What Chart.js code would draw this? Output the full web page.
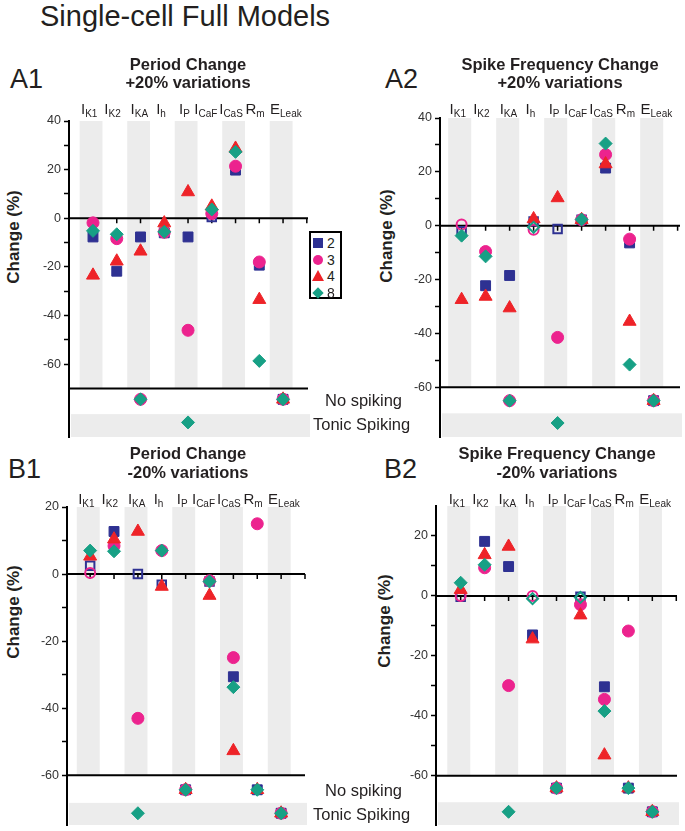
<!DOCTYPE html>
<html><head><meta charset="utf-8">
<script src="https://cdn.jsdelivr.net/npm/chart.js@4.4.1/dist/chart.umd.min.js"></script>
<style>
html,body{margin:0;padding:0;background:#fff;}
body{width:685px;height:831px;position:relative;overflow:hidden;font-family:"Liberation Sans",Arial,sans-serif;color:#231f20;}
.abs{position:absolute;white-space:nowrap;}
canvas{position:absolute;}
.sub{font-size:10px;position:relative;top:3px;}
#legend{position:absolute;left:309px;top:231px;width:29px;height:64px;border:2px solid #000;background:#fff;}
.li{position:absolute;left:0;width:29px;height:16px;}
.lm{position:absolute;}
.lt{position:absolute;left:16px;font-size:14px;line-height:16px;top:0;}
</style></head><body>

<script>
// ---------------- DATA ----------------
const categories = ['IK1','IK2','IKA','Ih','IP','ICaF','ICaS','Rm','ELeak'];
const catBase = ['I','I','I','I','I','I','I','R','E'];
const catSub  = ['K1','K2','KA','h','P','CaF','CaS','m','Leak'];
const seriesNames = ['2','3','4','8'];
// 'NS' = No spiking, 'TS' = Tonic Spiking

// A1: Period change, +20% variations
const a1s2 = [-7.7, -21.8, -7.7, -6.0, -7.7, 0.5, 19.8, -19.3, 'NS'];
const a1s3 = [-1.9, -8.4, 'NS', -5.8, -46.1, 1.9, 21.4, -18.0, 'NS'];
const a1s4 = [-23.5, -17.7, -13.6, -2.0, 10.8, 4.9, 28.7, -33.5, 'NS'];
const a1s8 = [-5.2, -6.6, 'NS', -5.6, 'TS', 3.6, 27.3, -58.7, 'NS'];

// A2: Spike frequency change, +20% variations
const a2s2 = [-2.1, -22.3, -18.5, 1.6, -1.2, 2.2, 21.4, -6.4, 'NS'];
const a2s3 = [0.4, -9.6, 'NS', -1.5, -41.5, 2.2, 26.4, -5.0, 'NS'];
const a2s4 = [-27.5, -26.3, -30.6, 2.5, 10.3, 2.2, 22.9, -35.6, 'NS'];
const a2s8 = [-3.7, -11.4, 'NS', -0.6, 'TS', 2.3, 30.5, -51.6, 'NS'];

// B1: Period change, -20% variations
const b1s2 = [2.5, 12.7, 0.0, -3.2, 'NS', -2.2, -30.6, 'NS', 'TS'];
const b1s3 = [0.3, 8.4, -43.0, 7.0, 'NS', -2.0, -24.9, 15.0, 'TS'];
const b1s4 = [5.3, 10.4, 12.7, -3.7, 'NS', -6.4, -52.7, 'NS', 'TS'];
const b1s8 = [7.0, 6.8, 'TS', 7.0, 'NS', -2.2, -33.7, 'NS', 'TS'];

// B2: Spike frequency change, -20% variations
const b2s2 = [-0.3, 18.2, 9.8, -13.0, 'NS', -0.3, -30.3, 'NS', 'TS'];
const b2s3 = [0.0, 9.4, -29.9, 0.0, 'NS', -2.9, -34.5, -11.7, 'TS'];
const b2s4 = [2.1, 13.7, 16.5, -14.4, 'NS', -6.4, -53.1, 'NS', 'TS'];
const b2s8 = [4.4, 10.4, 'TS', -0.9, 'NS', -0.5, -38.4, 'NS', 'TS'];

// open (hollow) markers: [series, category]
const openA1 = [['2','ICaF']];
const openA2 = [['2','IK1'],['3','IK1'],['2','Ih'],['3','Ih'],['8','Ih'],['2','IP'],['2','ICaF']];
const openB1 = [['2','IK1'],['3','IK1'],['2','IKA'],['2','Ih'],['2','ICaF']];
const openB2 = [['2','IK1'],['3','IK1'],['3','Ih'],['8','Ih'],['2','ICaF'],['8','ICaF']];

// y tick values
const ticksA = [40,30,20,10,0,-10,-20,-30,-40,-50,-60];
const ticksB1 = [20,10,0,-10,-20,-30,-40,-50,-60];
const ticksB2 = [20,10,0,-10,-20,-30,-40,-50,-60];
</script>

<script>
const FONT = '"Liberation Sans", Arial, sans-serif';
const colors = {'2':'#2e3192','3':'#ec238e','4':'#ee2328','8':'#17a085'};
const styles = {'2':'rect','3':'circle','4':'triangle','8':'rectRot'};
const radii  = {'2':7,'3':6,'4':7.5,'8':6.5};
const orders = {'2':3,'3':2,'4':1,'8':0};
// horizontal nudges of the category header labels (px)
const labelNudge = [-3.8,-4.2,-1.2,-3.2,-3.5,-6,-4.5,-4.2,2.8];

function txt(html, x, baseline, size, opt) {
  opt = opt || {};
  const d = document.createElement('div');
  d.className = 'abs';
  d.innerHTML = html;
  d.style.fontSize = size + 'px';
  d.style.lineHeight = size + 'px';
  d.style.top = (baseline - 0.8465 * size) + 'px';
  d.style.left = x + 'px';
  if (opt.bold) d.style.fontWeight = 'bold';
  if (opt.center) d.style.transform = 'translateX(-50%)';
  document.body.appendChild(d);
  return d;
}
function rotTxt(html, cx, cy, size) {
  const d = document.createElement('div');
  d.className = 'abs';
  d.innerHTML = html;
  d.style.fontSize = size + 'px';
  d.style.lineHeight = size + 'px';
  d.style.fontWeight = 'bold';
  d.style.left = cx + 'px';
  d.style.top = cy + 'px';
  d.style.transform = 'translate(-50%,-50%) rotate(-90deg)';
  document.body.appendChild(d);
}

const decor = {
  id: 'decor',
  beforeDatasetsDraw(chart) {
    const p = chart.options.plugins.decor;
    const {ctx, chartArea: a} = chart;
    const x = chart.scales.x, y = chart.scales.y;
    ctx.save();
    ctx.fillStyle = '#ececec';
    const sepY = y.getPixelForValue(p.sep);
    const topY = y.getPixelForValue(y.max);
    for (let i = 0; i < categories.length; i += 2) {
      const l = x.getPixelForValue(i - 0.08 - 0.48), r = x.getPixelForValue(i - 0.08 + 0.48);
      ctx.fillRect(l, topY, r - l, sepY - topY);
    }
    const tb = y.getPixelForValue(p.tonicTop);
    ctx.fillRect(a.left + 2, tb, a.right - a.left, a.bottom - tb);
    ctx.strokeStyle = '#000';
    ctx.lineWidth = 2;
    const z = y.getPixelForValue(0);
    ctx.beginPath();
    ctx.moveTo(a.left, z); ctx.lineTo(a.right, z);
    ctx.moveTo(a.left, sepY); ctx.lineTo(a.right, sepY);
    ctx.stroke();
    ctx.lineWidth = 1.5;
    ctx.beginPath();
    for (let i = 0; i <= categories.length; i++) {
      const px = x.getPixelForValue(i);
      if (px <= a.right + 1) { ctx.moveTo(px, z); ctx.lineTo(px, z + 5); }
    }
    ctx.stroke();
    ctx.restore();
  }
};

function makePanel(p) {
  const yw = 40, padT = 14, padR = 14, padB = 14;
  const A = p.area;
  const cv = document.createElement('canvas');
  const W = A.r - A.l + yw + padR, H = A.b - A.t + padT + padB;
  cv.width = W; cv.height = H;
  cv.style.width = W + 'px'; cv.style.height = H + 'px';
  cv.style.left = (A.l - yw) + 'px'; cv.style.top = (A.t - padT) + 'px';
  document.body.appendChild(cv);

  const datasets = seriesNames.map((s, si) => {
    const vals = p.data[si];
    const pts = [], bg = [], bw = [], rad = [];
    vals.forEach((v, i) => {
      const yv = v === 'NS' ? p.noSpike : (v === 'TS' ? p.tonic : v);
      pts.push({x: i, y: yv});
      const isOpen = p.open.some(o => o[0] === s && o[1] === categories[i]);
      bg.push(isOpen ? 'rgba(255,255,255,0)' : colors[s]);
      bw.push(isOpen ? 2 : 1);
      rad.push(isOpen ? radii[s] - 1 : radii[s]);
    });
    return {
      label: s, data: pts, order: orders[s],
      pointStyle: styles[s], pointRadius: rad, pointBackgroundColor: bg,
      pointBorderColor: colors[s], pointBorderWidth: bw, showLine: false, clip: false
    };
  });

  const chart = new Chart(cv, {
    type: 'scatter',
    data: {datasets},
    options: {
      responsive: false, animation: false, events: [],
      layout: {autoPadding: false, padding: {left: 0, top: padT, right: padR, bottom: padB}},
      plugins: {legend: {display: false}, tooltip: {enabled: false}, decor: p},
      scales: {
        x: {type: 'linear', display: false, min: p.x[0], max: p.x[1]},
        y: {
          type: 'linear', position: 'left', min: p.y[0], max: p.y[1],
          afterFit(s) { s.width = yw; },
          afterBuildTicks(s) { s.ticks = p.ticks.map(v => ({value: v})); },
          ticks: {autoSkip: false, padding: 3, color: '#333',
                  font: {family: FONT, size: 12.5},
                  callback: (v) => (v % 20 === 0 ? String(v) : '')},
          grid: {drawOnChartArea: false, drawTicks: true, tickLength: 5, tickColor: '#000', tickWidth: 1.5},
          border: {display: true, color: '#000', width: 2}
        }
      }
    },
    plugins: [decor]
  });

  // category labels (HTML), positioned through the x scale
  const xs = chart.scales.x;
  const cLeft = A.l - yw;
  categories.forEach((c, i) => {
    const px = cLeft + xs.getPixelForValue(i) + labelNudge[i];
    txt(catBase[i] + '<span class="sub">' + catSub[i] + '</span>', px, p.labelBase, 15, {center: true});
  });
  return chart;
}

const panels = [
  {area:{l:69,t:121,r:308,b:437}, x:[-1.01,9.05], y:[-90,40], sep:-70, noSpike:-74.5, tonic:-84, tonicTop:-80.6,
   ticks:ticksA, data:[a1s2,a1s3,a1s4,a1s8], open:openA1, labelBase:114},
  {area:{l:440,t:118,r:680,b:437}, x:[-0.9,9.1], y:[-78.5,40], sep:-60, noSpike:-65, tonic:-73.3, tonicTop:-69.7,
   ticks:ticksA, data:[a2s2,a2s3,a2s4,a2s8], open:openA2, labelBase:114},
  {area:{l:67,t:507,r:305,b:825}, x:[-0.97,9.0], y:[-74.8,20], sep:-60, noSpike:-64.3, tonic:-71.3, tonicTop:-68.2,
   ticks:ticksB1, data:[b1s2,b1s3,b1s4,b1s8], open:openB1, labelBase:504},
  {area:{l:436,t:506,r:677,b:825}, x:[-1.03,9.03], y:[-76.4,30], sep:-60, noSpike:-64.1, tonic:-72, tonicTop:-68.8,
   ticks:ticksB2, data:[b2s2,b2s3,b2s4,b2s8], open:openB2, labelBase:504}
];
panels.forEach(makePanel);

// titles and texts
txt('Single-cell Full Models', 40, 27, 29);
txt('A1', 10, 89, 27);
txt('A2', 385, 89, 27);
txt('B1', 8, 479, 27);
txt('B2', 384, 479, 27);
txt('Period Change', 188, 70, 16.5, {bold:true, center:true});
txt('+20% variations', 188, 88, 16.5, {bold:true, center:true});
txt('Spike Frequency Change', 560, 70, 16.5, {bold:true, center:true});
txt('+20% variations', 560, 88, 16.5, {bold:true, center:true});
txt('Period Change', 188, 459, 16.5, {bold:true, center:true});
txt('-20% variations', 188, 478, 16.5, {bold:true, center:true});
txt('Spike Frequency Change', 557, 459, 16.5, {bold:true, center:true});
txt('-20% variations', 557, 478, 16.5, {bold:true, center:true});
rotTxt('Change (%)', 13, 237, 17);
rotTxt('Change (%)', 386, 236, 17);
rotTxt('Change (%)', 13, 612, 17);
rotTxt('Change (%)', 384, 621, 17);
txt('No spiking', 325, 406, 16.5);
txt('Tonic Spiking', 313, 430, 16.5);
txt('No spiking', 325, 796, 16.5);
txt('Tonic Spiking', 313, 820, 16.5);

// legend
const lg = document.createElement('div');
lg.id = 'legend';
document.body.appendChild(lg);
seriesNames.forEach((s, i) => {
  const row = document.createElement('div');
  row.className = 'li';
  row.style.top = (2 + i * 16.5) + 'px';
  const m = document.createElement('div');
  m.className = 'lm';
  const c = colors[s];
  if (s === '2') { Object.assign(m.style, {left:'2px', top:'3px', width:'10px', height:'10px', background:c}); }
  if (s === '3') { Object.assign(m.style, {left:'2px', top:'3px', width:'10px', height:'10px', background:c, borderRadius:'50%'}); }
  if (s === '4') { Object.assign(m.style, {left:'1px', top:'2px', width:'0', height:'0', borderLeft:'6px solid transparent', borderRight:'6px solid transparent', borderBottom:'11px solid ' + c}); }
  if (s === '8') { Object.assign(m.style, {left:'3px', top:'4px', width:'8px', height:'8px', background:c, transform:'rotate(45deg)'}); }
  row.appendChild(m);
  const t = document.createElement('div');
  t.className = 'lt';
  t.textContent = s;
  row.appendChild(t);
  lg.appendChild(row);
});
</script>
</body></html>
